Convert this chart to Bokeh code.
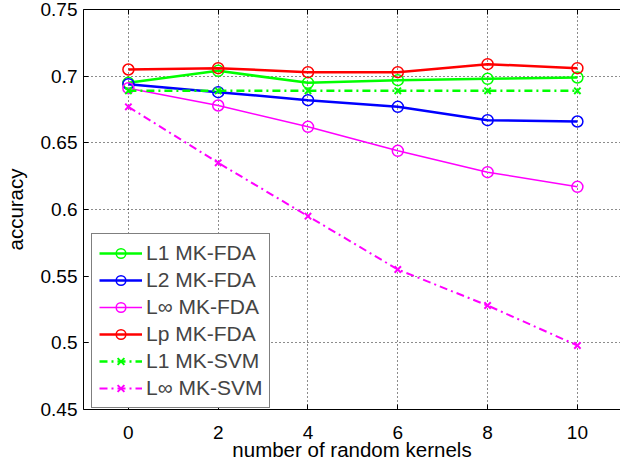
from bokeh.plotting import figure
from bokeh.models import FixedTicker, LinearAxis, Range1d, Legend, LegendItem
from bokeh.embed import file_html
from bokeh.resources import INLINE

# ---- data ----
kernels = [0, 2, 4, 6, 8, 10]
l1_fda = [0.695, 0.704, 0.695, 0.697, 0.698, 0.699]
l2_fda = [0.694, 0.688, 0.682, 0.677, 0.667, 0.666]
linf_fda = [0.691, 0.678, 0.662, 0.644, 0.628, 0.617]
lp_fda = [0.705, 0.706, 0.703, 0.703, 0.709, 0.706]
l1_svm = [0.689, 0.689, 0.689, 0.689, 0.689, 0.689]
linf_svm = [0.677, 0.635, 0.595, 0.555, 0.528, 0.498]

x_ticks = [0, 2, 4, 6, 8, 10]
y_ticks = [0.45, 0.5, 0.55, 0.6, 0.65, 0.7, 0.75]
y_tick_labels = ["0.45", "0.5", "0.55", "0.6", "0.65", "0.7", "0.75"]
x_label = "number of random kernels"
y_label = "accuracy"

FONT = "Liberation Sans"

p = figure(width=620, height=465, output_backend="svg", toolbar_location=None,
           x_range=Range1d(-1, 10.96), y_range=Range1d(0.45, 0.75),
           min_border_left=77, min_border_right=0, min_border_top=9, min_border_bottom=56)
p.outline_line_color = None
p.background_fill_color = "white"
p.border_fill_color = "white"

for ax in (p.xaxis[0], p.yaxis[0]):
    ax.major_tick_in = 5
    ax.major_tick_out = 0
    ax.minor_tick_in = 0
    ax.minor_tick_out = 0
    ax.axis_line_color = "black"
    ax.major_tick_line_color = "black"
    ax.major_label_text_font = FONT
    ax.major_label_text_font_size = "19px"
    ax.major_label_text_color = "black"
    ax.axis_label_text_font = FONT
    ax.axis_label_text_font_size = "20.5px"
    ax.axis_label_text_font_style = "normal"
    ax.axis_label_text_color = "black"

p.xaxis[0].ticker = FixedTicker(ticks=x_ticks)
p.yaxis[0].ticker = FixedTicker(ticks=y_ticks)
p.yaxis[0].major_label_overrides = {t: l for t, l in zip(y_ticks, y_tick_labels)}
p.xaxis[0].axis_label = x_label
p.yaxis[0].axis_label = y_label
p.xaxis[0].major_label_standoff = 16
p.xaxis[0].axis_label_standoff = -4
p.yaxis[0].major_label_standoff = 6
p.yaxis[0].axis_label_standoff = 11

top = LinearAxis(ticker=FixedTicker(ticks=x_ticks), major_tick_in=5, major_tick_out=0,
                 minor_tick_in=0, minor_tick_out=0,
                 major_label_overrides={t: "" for t in x_ticks},
                 major_label_standoff=0, axis_line_color="black", major_tick_line_color="black")
p.add_layout(top, "above")

for g in (p.xgrid[0], p.ygrid[0]):
    g.grid_line_color = "black"
    g.grid_line_dash = "1 3"
    g.grid_line_width = 1
    g.grid_line_alpha = 0.9
p.xgrid[0].ticker = FixedTicker(ticks=x_ticks)
p.ygrid[0].ticker = FixedTicker(ticks=y_ticks)

series = [
    ("L1 MK-FDA", l1_fda, "#00FF00", "solid", 2.5, "circle"),
    ("L2 MK-FDA", l2_fda, "#0000FF", "solid", 2.5, "circle"),
    ("L\u221e MK-FDA", linf_fda, "#FF00FF", "solid", 1.5, "circle"),
    ("Lp MK-FDA", lp_fda, "#FF0000", "solid", 2.5, "circle"),
    ("L1 MK-SVM", l1_svm, "#00FF00", "8 4 2 4", 2.5, "x"),
    ("L\u221e MK-SVM", linf_svm, "#FF00FF", "8 4 2 4", 2.0, "x"),
]

items = []
for label, ys, color, dash, lw, marker in series:
    r1 = p.line(kernels, ys, line_color=color, line_width=lw, line_dash=dash)
    if marker == "circle":
        r2 = p.scatter(kernels, ys, marker="circle", size=11, fill_color=None,
                       line_color=color, line_width=1.5)
    else:
        r2 = p.scatter(kernels, ys, marker="x", size=9, line_color=color, line_width=2)
    items.append(LegendItem(label=label, renderers=[r1, r2]))

legend = Legend(items=items, location=(8, 1), margin=0, padding=7, spacing=3,
                glyph_width=43, glyph_height=24, label_height=24, label_standoff=4,
                label_text_font=FONT, label_text_font_size="21px",
                border_line_color="black", border_line_width=1,
                background_fill_color="white", background_fill_alpha=1)
p.add_layout(legend, "center")

open("out.html", "w").write(file_html(p, INLINE))
